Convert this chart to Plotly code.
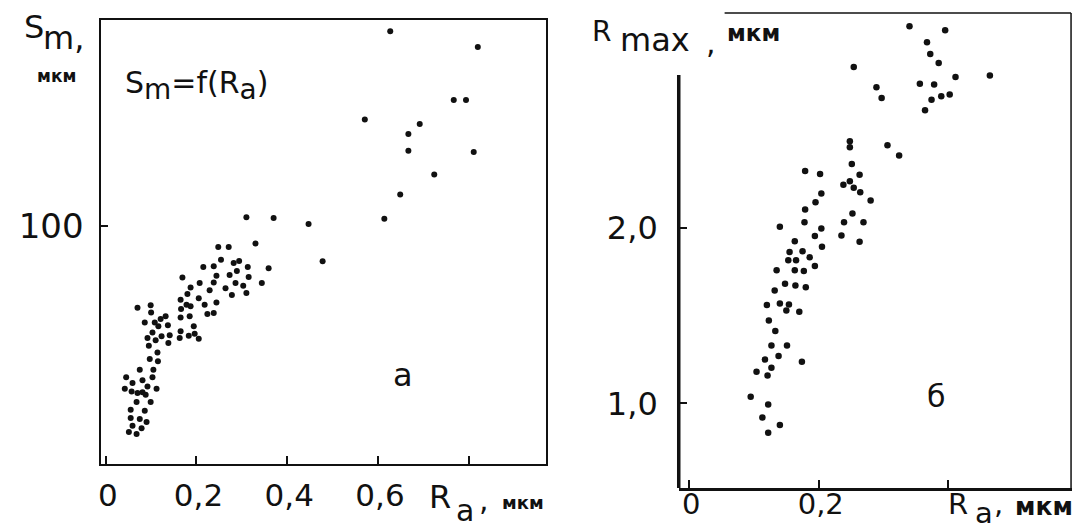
import plotly.graph_objects as go

# ---------------- data ----------------
# panel a : Sm = f(Ra)
ra_a = [0.627, 0.820, 0.571, 0.767, 0.794, 0.692, 0.667, 0.667, 0.811, 0.724,
        0.649, 0.614, 0.447, 0.370, 0.310, 0.330, 0.478, 0.248, 0.271,
        0.254, 0.215, 0.238, 0.282, 0.294, 0.313, 0.359, 0.289, 0.244, 0.273,
        0.315, 0.169, 0.207, 0.238, 0.286, 0.303, 0.344, 0.187, 0.229, 0.264,
        0.310, 0.180, 0.278, 0.205, 0.165, 0.244, 0.178, 0.187, 0.166, 0.218,
        0.238, 0.224, 0.185, 0.165, 0.132,
        0.070, 0.099, 0.100, 0.086, 0.108, 0.121, 0.116, 0.137, 0.194, 0.103,
        0.165, 0.141, 0.123, 0.092, 0.110, 0.138, 0.163, 0.183, 0.196, 0.205,
        0.095, 0.114, 0.097, 0.115,
        0.075, 0.105, 0.045, 0.103, 0.081, 0.059, 0.092, 0.042, 0.057, 0.070,
        0.081, 0.088, 0.112, 0.068, 0.099, 0.055, 0.086, 0.055, 0.075, 0.090,
        0.059, 0.079, 0.051, 0.068]
sm_a = [181.8, 175.2, 144.7, 152.9, 152.9, 142.9, 138.7, 131.6, 131.1, 121.6,
        113.2, 103.1, 100.8, 103.4, 103.7, 92.7, 85.2, 91.2, 91.2,
        85.8, 82.8, 83.1, 84.5, 85.3, 82.8, 82.2, 81.1, 79.1, 79.4,
        78.6, 78.4, 76.1, 76.3, 76.1, 74.9, 76.1, 74.2, 73.0, 73.8,
        71.8, 71.4, 71.0, 69.6, 69.0, 67.9, 66.9, 66.3, 65.1, 66.9,
        63.4, 63.0, 62.1, 61.6, 62.1,
        65.7, 66.7, 63.7, 59.5, 59.5, 60.9, 57.9, 58.3, 57.9, 55.3,
        55.8, 54.1, 53.7, 52.9, 52.0, 50.8, 52.9, 53.9, 54.7, 52.6,
        49.7, 46.9, 44.1, 43.2,
        39.6, 39.6, 36.4, 36.4, 35.2, 34.0, 32.6, 31.6, 30.5, 29.8,
        30.1, 29.1, 31.6, 26.1, 26.1, 22.8, 22.4, 19.3, 18.9, 17.6,
        16.1, 15.0, 13.4, 12.6]

# panel b : Rmax = f(Ra)
ra_b = [0.340, 0.395, 0.367, 0.372, 0.385, 0.254, 0.411, 0.464, 0.356, 0.378,
        0.289, 0.297, 0.374, 0.389, 0.402, 0.364, 0.248, 0.248, 0.306, 0.324,
        0.251, 0.179, 0.202, 0.263, 0.238, 0.248, 0.254, 0.264, 0.204, 0.195,
        0.280, 0.179, 0.252, 0.239, 0.269, 0.178, 0.140, 0.204, 0.235, 0.194,
        0.263, 0.163, 0.205, 0.155, 0.175, 0.186, 0.153, 0.165, 0.194, 0.135,
        0.163, 0.177, 0.148, 0.164, 0.180, 0.132, 0.120, 0.140, 0.154, 0.150,
        0.170, 0.123, 0.133, 0.127, 0.151, 0.138, 0.117, 0.174, 0.127, 0.104,
        0.121, 0.095, 0.122, 0.113, 0.140, 0.122]
rmax_b = [3.148, 3.125, 3.057, 2.990, 2.939, 2.916, 2.859, 2.867, 2.820, 2.816,
          2.801, 2.740, 2.730, 2.750, 2.759, 2.670, 2.493, 2.459, 2.471, 2.412,
          2.364, 2.323, 2.307, 2.303, 2.246, 2.266, 2.228, 2.203, 2.195, 2.146,
          2.155, 2.104, 2.081, 2.032, 2.032, 2.032, 2.006, 1.996, 1.956, 1.953,
          1.920, 1.924, 1.892, 1.862, 1.867, 1.833, 1.816, 1.816, 1.782, 1.759,
          1.759, 1.754, 1.681, 1.672, 1.662, 1.643, 1.560, 1.569, 1.563, 1.529,
          1.522, 1.472, 1.412, 1.330, 1.330, 1.270, 1.250, 1.237, 1.203, 1.180,
          1.159, 1.038, 0.994, 0.919, 0.877, 0.833]

xticks_a = [0, 0.2, 0.4, 0.6, 0.8]
xlabels_a = ["0", "0,2", "0,4", "0,6", ""]
yticks_a = [100]
ylabels_a = ["100"]
xticks_b = [0, 0.2, 0.4]
xlabels_b = ["0", "0,2", ""]
yticks_b = [1.0, 2.0]
ylabels_b = ["1,0", "2,0"]

# ---------------- layout constants ----------------
W, H = 1080, 528
FONT = "DejaVu Sans"
INK = "#111111"


def px(x):
    return x / W


def py(y):
    return 1 - y / H


fig = go.Figure()
fig.add_trace(go.Scatter(x=ra_a, y=sm_a, mode="markers", xaxis="x", yaxis="y",
                         marker=dict(size=6, color=INK), showlegend=False))
fig.add_trace(go.Scatter(x=ra_b, y=rmax_b, mode="markers", xaxis="x2", yaxis="y2",
                         marker=dict(size=6.5, color=INK), showlegend=False))

fig.update_layout(
    width=W, height=H, margin=dict(l=0, r=0, t=0, b=0), autosize=False,
    paper_bgcolor="white", plot_bgcolor="white",
    xaxis=dict(domain=[px(90.45), px(536.35)], range=[-0.01, 0.97],
               tickvals=xticks_a, ticktext=xlabels_a, ticks="inside", ticklen=8,
               tickwidth=1.5, tickcolor=INK, showgrid=False, zeroline=False,
               showline=True, mirror=True, linewidth=1.5, linecolor=INK,
               tickfont=dict(family=FONT, size=31, color=INK),
               ticklabelstandoff=3, ticklabelshift=2,
               anchor="y", fixedrange=True),
    yaxis=dict(domain=[py(456), py(11.9)], range=[0, 186.6],
               tickvals=yticks_a, ticktext=ylabels_a, ticks="inside", ticklen=7,
               tickwidth=1.5, tickcolor=INK, showgrid=False, zeroline=False,
               showline=True, mirror=True, linewidth=1.5, linecolor=INK,
               tickfont=dict(family=FONT, size=34, color=INK),
               ticklabelstandoff=9, anchor="x", fixedrange=True),
    xaxis2=dict(domain=[px(669.6), px(1064.8)], range=[-0.016, 0.592],
                tickvals=xticks_b, ticktext=xlabels_b, ticks="inside", ticklen=8,
                tickwidth=1.5, tickcolor=INK, showgrid=False, zeroline=False,
                showline=True, linewidth=2.5, linecolor=INK,
                tickfont=dict(family=FONT, size=29, color=INK),
                ticklabelstandoff=-12, ticklabelshift=2, anchor="y2",
                fixedrange=True),
    yaxis2=dict(domain=[py(480), py(0.375)], range=[0.518, 3.25],
                tickvals=yticks_b, ticktext=ylabels_b, ticks="inside", ticklen=8,
                tickwidth=1.5, tickcolor=INK, showgrid=False, zeroline=False,
                showline=False, tickfont=dict(family=FONT, size=32, color=INK),
                ticklabelstandoff=20, anchor="x2", fixedrange=True),
)

# frame lines of panel b (partial frame)
frame = [
    (669.6, 480, 669.6, 67, 3.5),    # thick left axis
    (715.6, 5, 1063, 5, 1.5),        # top line
    (1063, 5, 1063, 480, 1.5),       # right line
]
for x0, y0, x1, y1, w in frame:
    fig.add_shape(type="line", xref="paper", yref="paper",
                  x0=px(x0), y0=py(y0), x1=px(x1), y1=py(y1),
                  line=dict(color=INK, width=w))


def label(text, cx, cy, size, bold=False, xanchor="center"):
    t = "<b>%s</b>" % text if bold else text
    fig.add_annotation(text=t, xref="paper", yref="paper", x=px(cx), y=py(cy),
                       xanchor=xanchor, yanchor="middle", showarrow=False,
                       font=dict(family=FONT, size=size, color=INK))


# panel a texts
label("S", 23, 19, 32)
label("m,", 53, 30, 32)
label("мкм", 46, 68, 17, bold=True)
label('S<sub><span style="font-size:28px">m</span></sub>=f(R<sub>'
      '<span style="font-size:28px">a</span></sub>)', 112, 78, 30, xanchor="left")
label("a", 393, 367, 32)
label("R", 430, 489, 32)
label("a", 455, 502, 30)
label(",", 474, 491, 30)
label("мкм", 513, 494, 18, bold=True)

# panel b texts
label("R", 592, 24, 28)
label("max", 646, 32, 32)
label(",", 702, 34, 30)
label("мкм", 745, 25, 23, bold=True)
label("б", 928, 388, 30)
label("R", 950, 496, 29)
label("a", 976, 505, 29)
label(",", 990, 496, 29)
label("мкм", 1036, 498, 25, bold=True)

fig.write_html("out.html")
